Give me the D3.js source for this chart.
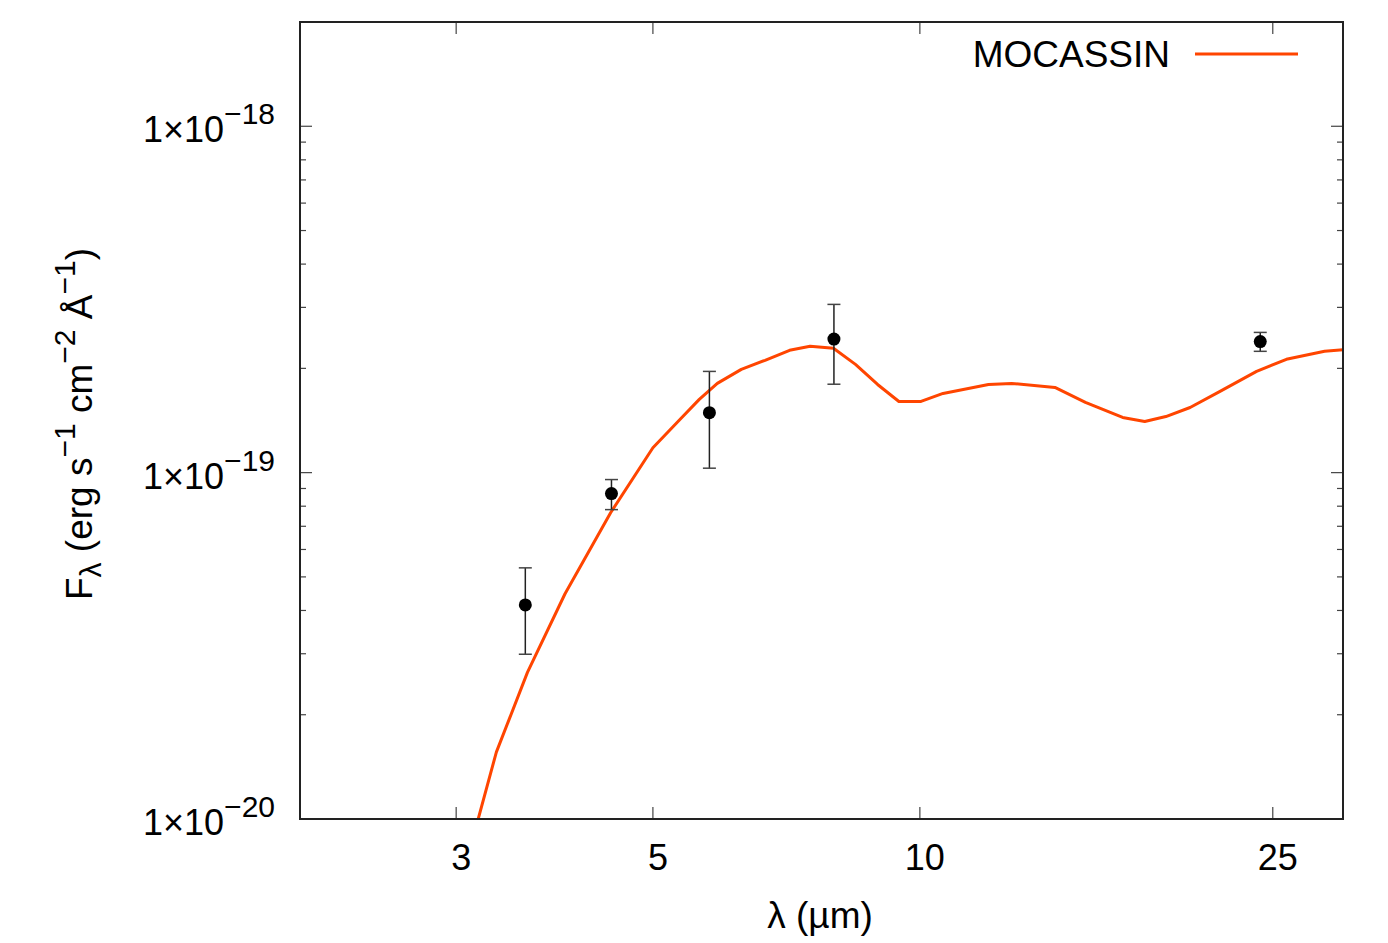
<!DOCTYPE html>
<html>
<head>
<meta charset="utf-8">
<script src="https://cdn.jsdelivr.net/npm/d3@7"></script>
<style>
  body { margin: 0; background: #fff; }
  svg { font-family: "Liberation Sans", Arial, sans-serif; }
  .frame { fill: none; stroke: #222; stroke-width: 2; }
  .tick-line { stroke: #444; stroke-width: 1.2; }
</style>
</head>
<body>
<svg id="chart" width="1388" height="943"></svg>
<script>
// model SED (MOCASSIN) : wavelength in micron, flux in erg/s/cm2/A
const modelLambda = [3.13, 3.33, 3.61, 3.98, 4.48, 5.0, 5.35, 5.64, 5.91, 6.29, 6.69, 7.13, 7.52, 7.99,
  8.46, 8.96, 9.47, 10.03, 10.62, 11.95, 12.69, 14.2, 15.37, 16.93, 17.93, 18.94, 20.17, 21.8, 23.97,
  25.9, 28.6, 30.3];
const modelFlux = [8.7e-21, 1.56e-20, 2.65e-20, 4.47e-20, 7.66e-20, 1.18e-19, 1.415e-19, 1.627e-19,
  1.81e-19, 1.987e-19, 2.11e-19, 2.255e-19, 2.316e-19, 2.285e-19, 2.054e-19, 1.797e-19, 1.605e-19,
  1.605e-19, 1.693e-19, 1.797e-19, 1.81e-19, 1.762e-19, 1.595e-19, 1.443e-19, 1.405e-19, 1.452e-19,
  1.542e-19, 1.716e-19, 1.96e-19, 2.124e-19, 2.24e-19, 2.27e-19];

// observed photometry with error bars
const obsLambda = [3.59, 4.49, 5.79, 8.0, 24.2];
const obsFlux = [4.15e-20, 8.7e-20, 1.49e-19, 2.43e-19, 2.39e-19];
const obsLow = [2.99e-20, 7.82e-20, 1.03e-19, 1.80e-19, 2.24e-19];
const obsHigh = [5.31e-20, 9.55e-20, 1.96e-19, 3.06e-19, 2.54e-19];

const xTicks = [3, 5, 10, 25];
const yMajor = [1e-20, 1e-19, 1e-18];
const yExp = ["−20", "−19", "−18"];

const margin = { top: 22, right: 45, bottom: 124, left: 300 };
const W = 1388, H = 943;
const width = W - margin.left - margin.right;
const height = H - margin.top - margin.bottom;

const svg = d3.select('#chart');
const g = svg.append('g').attr('transform', `translate(${margin.left},${margin.top})`);

const x = d3.scaleLog().domain([2, 30]).range([0, width]);
const y = d3.scaleLog().domain([1e-20, 2e-18]).range([height, 0]);

// minor y ticks 2..9 x 10^n
const yMinor = [];
[1e-20, 1e-19, 1e-18].forEach(base => {
  for (let k = 2; k <= 9; k++) {
    const v = base * k;
    if (v <= 2e-18 * 1.0001) yMinor.push(v);
  }
});

// ticks (left/right, bottom/top)
const ticks = g.append('g');
yMajor.forEach(v => {
  ticks.append('line').attr('class', 'tick-line').attr('x1', 0).attr('x2', 12).attr('y1', y(v)).attr('y2', y(v));
  ticks.append('line').attr('class', 'tick-line').attr('x1', width).attr('x2', width - 12).attr('y1', y(v)).attr('y2', y(v));
});
yMinor.forEach(v => {
  ticks.append('line').attr('class', 'tick-line').attr('x1', 0).attr('x2', 6).attr('y1', y(v)).attr('y2', y(v));
  ticks.append('line').attr('class', 'tick-line').attr('x1', width).attr('x2', width - 6).attr('y1', y(v)).attr('y2', y(v));
});
xTicks.forEach(v => {
  ticks.append('line').attr('class', 'tick-line').attr('x1', x(v)).attr('x2', x(v)).attr('y1', height).attr('y2', height - 12);
  ticks.append('line').attr('class', 'tick-line').attr('x1', x(v)).attr('x2', x(v)).attr('y1', 0).attr('y2', 12);
});

// tick labels
const fs = 36;
xTicks.forEach(v => {
  g.append('text').attr('x', x(v) + 5).attr('y', height + 51).attr('text-anchor', 'middle')
    .style('font-size', fs + 'px').text(v);
});
yMajor.forEach((v, i) => {
  const t = g.append('text').attr('x', -25).attr('y', y(v) + 16).attr('text-anchor', 'end')
    .style('font-size', fs + 'px');
  t.append('tspan').text('1×10');
  t.append('tspan').attr('dy', -18).style('font-size', '30px').text(yExp[i]);
});

// clip
svg.append('defs').append('clipPath').attr('id', 'clip')
  .append('rect').attr('width', width).attr('height', height);

const data = modelLambda.map((l, i) => ({ l: l, f: modelFlux[i] }));
const line = d3.line().x(d => x(d.l)).y(d => y(d.f));

g.append('path').datum(data).attr('clip-path', 'url(#clip)')
  .attr('fill', 'none').attr('stroke', '#ff4500').attr('stroke-width', 3)
  .attr('stroke-linejoin', 'round').attr('d', line);

// observations
const obs = obsLambda.map((l, i) => ({ l: l, f: obsFlux[i], lo: obsLow[i], hi: obsHigh[i] }));
const pts = g.append('g').selectAll('g').data(obs).join('g');
pts.append('line').attr('x1', d => x(d.l)).attr('x2', d => x(d.l)).attr('y1', d => y(d.lo)).attr('y2', d => y(d.hi))
  .attr('stroke', '#222').attr('stroke-width', 1.5);
pts.append('line').attr('x1', d => x(d.l) - 6.5).attr('x2', d => x(d.l) + 6.5).attr('y1', d => y(d.lo)).attr('y2', d => y(d.lo))
  .attr('stroke', '#444').attr('stroke-width', 1.5);
pts.append('line').attr('x1', d => x(d.l) - 6.5).attr('x2', d => x(d.l) + 6.5).attr('y1', d => y(d.hi)).attr('y2', d => y(d.hi))
  .attr('stroke', '#444').attr('stroke-width', 1.5);
pts.append('circle').attr('cx', d => x(d.l)).attr('cy', d => y(d.f)).attr('r', 6.5).attr('fill', '#000');

// frame
g.append('rect').attr('class', 'frame').attr('width', width).attr('height', height);

// legend
g.append('text').attr('x', 870).attr('y', 45).attr('text-anchor', 'end').style('font-size', '37px').text('MOCASSIN');
g.append('line').attr('x1', 895).attr('x2', 998).attr('y1', 32).attr('y2', 32)
  .attr('stroke', '#ff4500').attr('stroke-width', 3);

// axis titles
svg.append('text').attr('x', 820).attr('y', 928).attr('text-anchor', 'middle')
  .style('font-size', '37px').text('λ (µm)');

const yl = svg.append('text').attr('transform', 'translate(92,424) rotate(-90)')
  .attr('text-anchor', 'middle').style('font-size', '37px');
yl.append('tspan').text('F');
yl.append('tspan').attr('dy', 9).style('font-size', '30px').text('λ');
yl.append('tspan').attr('dy', -9).text(' (erg s');
yl.append('tspan').attr('dy', -17).style('font-size', '30px').text('−1');
yl.append('tspan').attr('dy', 17).text(' cm');
yl.append('tspan').attr('dy', -17).style('font-size', '30px').text('−2');
yl.append('tspan').attr('dy', 17).text(' Å');
yl.append('tspan').attr('dy', -17).style('font-size', '30px').text('−1');
yl.append('tspan').attr('dy', 17).text(')');
</script>
</body>
</html>
